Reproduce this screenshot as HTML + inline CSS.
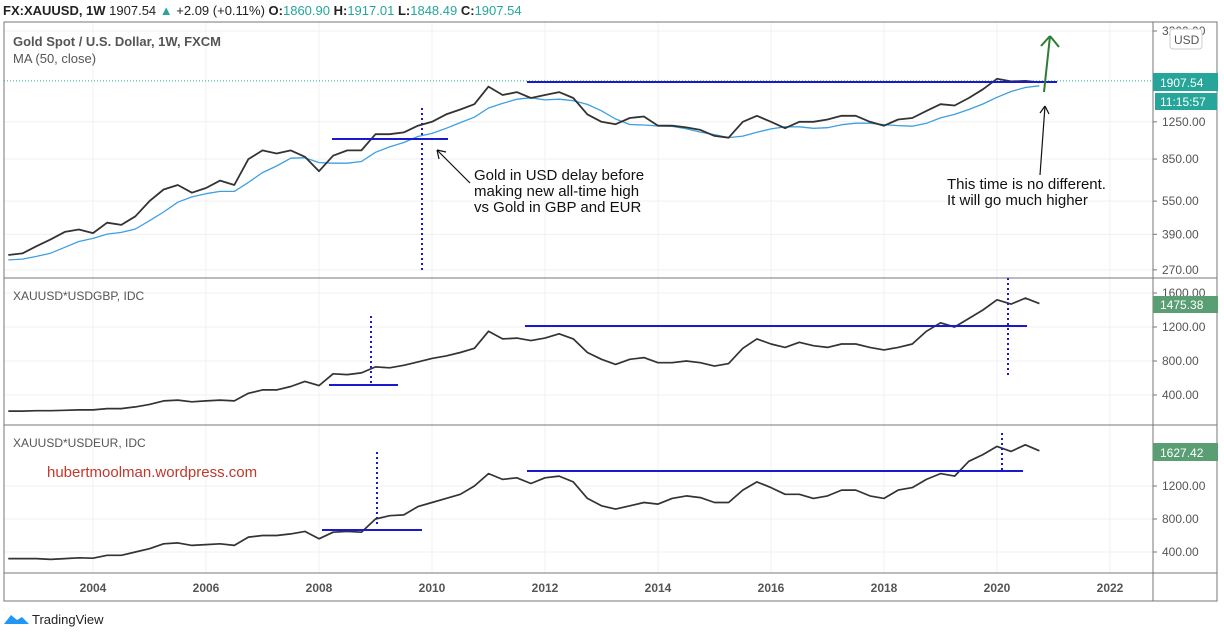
<!DOCTYPE html>
<html><head><meta charset="utf-8"><style>
body{margin:0;background:#fff;font-family:"Liberation Sans",sans-serif;}
svg{display:block}
</style></head><body>
<svg id="c" width="1224" height="638" xmlns="http://www.w3.org/2000/svg" font-family="Liberation Sans, sans-serif">
<text x="3" y="15" font-size="13" fill="#222"><tspan font-weight="bold">FX:XAUUSD, 1W</tspan> 1907.54 <tspan fill="#26a69a">▲</tspan> +2.09 (+0.11%) <tspan font-weight="bold">O:</tspan><tspan fill="#26a69a">1860.90</tspan> <tspan font-weight="bold">H:</tspan><tspan fill="#26a69a">1917.01</tspan> <tspan font-weight="bold">L:</tspan><tspan fill="#26a69a">1848.49</tspan> <tspan font-weight="bold">C:</tspan><tspan fill="#26a69a">1907.54</tspan></text>
<g id="grid"></g>
<rect x="4" y="22" width="1213" height="579" fill="none" stroke="#777"/>
<line x1="1153" y1="22" x2="1153" y2="601" stroke="#777"/>
<line x1="4" y1="278" x2="1217" y2="278" stroke="#777"/>
<line x1="4" y1="425" x2="1217" y2="425" stroke="#777"/>
<line x1="4" y1="573" x2="1217" y2="573" stroke="#777"/>
<g id="marks"></g>
<g id="labels" font-size="12" fill="#555"></g>
<text x="13" y="46" font-size="13" font-weight="bold" fill="#555">Gold Spot / U.S. Dollar, 1W, FXCM</text>
<text x="13" y="63" font-size="13" fill="#555">MA (50, close)</text>
<text x="13" y="300" font-size="12" fill="#555">XAUUSD*USDGBP, IDC</text>
<text x="13" y="447" font-size="12" fill="#555">XAUUSD*USDEUR, IDC</text>
<text x="47" y="477" font-size="15" fill="#c0392b">hubertmoolman.wordpress.com</text>
<g font-size="15" fill="#111">
<text x="474" y="180">Gold in USD delay before</text><text x="474" y="196">making new all-time high</text><text x="474" y="212">vs Gold in GBP and EUR</text></g>
<g font-size="15" fill="#111">
<text x="947" y="189">This time is no different.</text><text x="947" y="205">It will go much higher</text></g>
<g stroke="#1a1acc" stroke-width="2">
<line x1="527" y1="82" x2="1057" y2="82"/><line x1="332" y1="139" x2="448" y2="139"/>
<line x1="525" y1="326" x2="1027" y2="326"/><line x1="329" y1="385" x2="398" y2="385"/>
<line x1="527" y1="471" x2="1023" y2="471"/><line x1="322" y1="530" x2="422" y2="530"/></g>
<g stroke="#1a1acc" stroke-width="2" stroke-dasharray="2,3">
<line x1="422" y1="108" x2="422" y2="272"/><line x1="371" y1="316" x2="371" y2="385"/>
<line x1="1008" y1="278" x2="1008" y2="377"/><line x1="377" y1="452" x2="377" y2="525"/>
<line x1="1002" y1="433" x2="1002" y2="470"/></g>
<g stroke="#111" fill="none" stroke-width="1.2">
<line x1="470" y1="183" x2="437" y2="150"/><path d="M437 150 l9 2 M437 150 l2 9"/>
<line x1="1040" y1="175" x2="1045" y2="106"/><path d="M1045 106 l-5 7 M1045 106 l4 8"/></g>
<g stroke="#2e7d32" fill="none" stroke-width="2">
<line x1="1044" y1="92" x2="1050" y2="36"/><path d="M1050 36 l-9 10 M1050 36 l9 11"/></g>
<rect x="1170" y="29" width="32" height="20" rx="3" fill="#fff" stroke="#ccc"/>
<text x="1174" y="44" font-size="12" fill="#555">USD</text>
<rect x="1153" y="73" width="65" height="18" fill="#26a69a"/>
<text x="1160" y="87" font-size="12" fill="#fff">1907.54</text>
<rect x="1155" y="93" width="62" height="17" fill="#26a69a"/>
<text x="1160" y="106" font-size="12" fill="#fff">11:15:57</text>
<rect x="1153" y="296" width="65" height="17" fill="#5a9e74"/>
<text x="1160" y="309" font-size="12" fill="#fff">1475.38</text>
<rect x="1153" y="443" width="65" height="18" fill="#5a9e74"/>
<text x="1160" y="457" font-size="12" fill="#fff">1627.42</text>
<g><path d="M4 624 l7-9 l6 5 l5-3 l7 7 z" fill="#2196f3"/><text x="32" y="624" font-size="13" fill="#222">TradingView</text></g>
</svg>
<script>
const startYear=2002.5, step=0.25;
const usd=[315,320,345,370,400,410,395,440,430,470,550,620,650,600,630,680,650,850,930,900,930,870,750,880,930,930,1100,1100,1120,1200,1250,1350,1420,1500,1800,1650,1700,1600,1650,1700,1600,1350,1250,1220,1300,1320,1200,1200,1180,1150,1080,1060,1250,1330,1250,1170,1250,1250,1280,1330,1330,1250,1200,1280,1300,1400,1500,1480,1600,1750,1950,1900,1910,1880];
const gbp=[210,210,215,215,220,225,225,240,240,260,290,330,340,320,330,340,330,420,460,460,500,560,510,650,640,660,730,720,750,790,830,860,900,950,1150,1060,1070,1040,1070,1120,1060,900,820,760,820,840,780,780,800,780,740,770,950,1060,1000,960,1020,980,960,1000,1000,960,930,960,1000,1150,1250,1200,1300,1400,1520,1470,1540,1475];
const eur=[320,320,320,310,320,330,325,360,360,400,440,500,510,480,490,500,480,580,600,600,620,650,560,640,650,640,800,840,850,950,1000,1050,1100,1200,1350,1280,1300,1230,1300,1320,1250,1050,960,920,960,1000,980,1050,1080,1060,1000,1000,1150,1250,1180,1100,1100,1050,1080,1150,1150,1080,1050,1150,1180,1280,1350,1320,1500,1580,1680,1620,1700,1627];
const years=[2004,2006,2008,2010,2012,2014,2016,2018,2020,2022];
const usdTicks=[270,390,550,850,1250,3200];
const gbpTicks=[400,800,1200,1600];
const eurTicks=[400,800,1200];
const NS='http://www.w3.org/2000/svg';
const xOf=t=>93+(t-2004)*56.5;
const yUsd=v=>31+(Math.log(3200)-Math.log(v))*96.6;
const yGbp=v=>395-(v-400)/400*34;
const yEur=v=>552-(v-400)/400*33;
function mk(tag,attrs,parent){const e=document.createElementNS(NS,tag);for(const k in attrs)e.setAttribute(k,attrs[k]);document.getElementById(parent).appendChild(e);return e;}
years.forEach(y=>{
 const l=mk('line',{x1:xOf(y),x2:xOf(y),y1:22,y2:573,stroke:'#f0f0f0'},'grid');
 
 
 const t=mk('text',{x:xOf(y),y:592,'text-anchor':'middle','font-weight':'bold',fill:'#555'},'labels');
 t.textContent=y;
 
 
});
function yTicks(ticks,f,name){ticks.forEach(v=>{
 const y=f(v);
 mk('line',{x1:4,x2:1153,y1:y,y2:y,stroke:'#f0f0f0'},'grid');
 mk('line',{x1:1153,x2:1157,y1:y,y2:y,stroke:'#777'},'grid');
 const t=mk('text',{x:1162,y:y+4},'labels');
 t.textContent=v.toFixed(2);
 
 
});}
yTicks(usdTicks,yUsd,'usd-tick-label');yTicks(gbpTicks,yGbp,'gbp-tick-label');yTicks(eurTicks,yEur,'eur-tick-label');
mk('line',{x1:4,x2:1153,y1:yUsd(usd[usd.length-2]),y2:yUsd(usd[usd.length-2]),stroke:'#26a69a','stroke-dasharray':'1,2'},'grid');
function series(arr,f,name,color,w){
 const d=arr.map((v,i)=>(i?'L':'M')+xOf(startYear+i*step).toFixed(1)+' '+f(v).toFixed(1)).join(' ');
 const p=mk('path',{d:d,fill:'none',stroke:color,'stroke-width':w,'stroke-linejoin':'round'},'marks');
 
 
}
const ma=usd.map((v,i)=>{const s=usd.slice(Math.max(0,i-3),i+1);return s.reduce((a,b)=>a+b,0)/s.length*0.95;});
series(ma,yUsd,'ma-line','#3da0e0',1.3);
series(usd,yUsd,'usd-price-series','#333',1.8);
series(gbp,yGbp,'gbp-price-series','#333',1.7);
series(eur,yEur,'eur-price-series','#333',1.7);
</script>
</body></html>
